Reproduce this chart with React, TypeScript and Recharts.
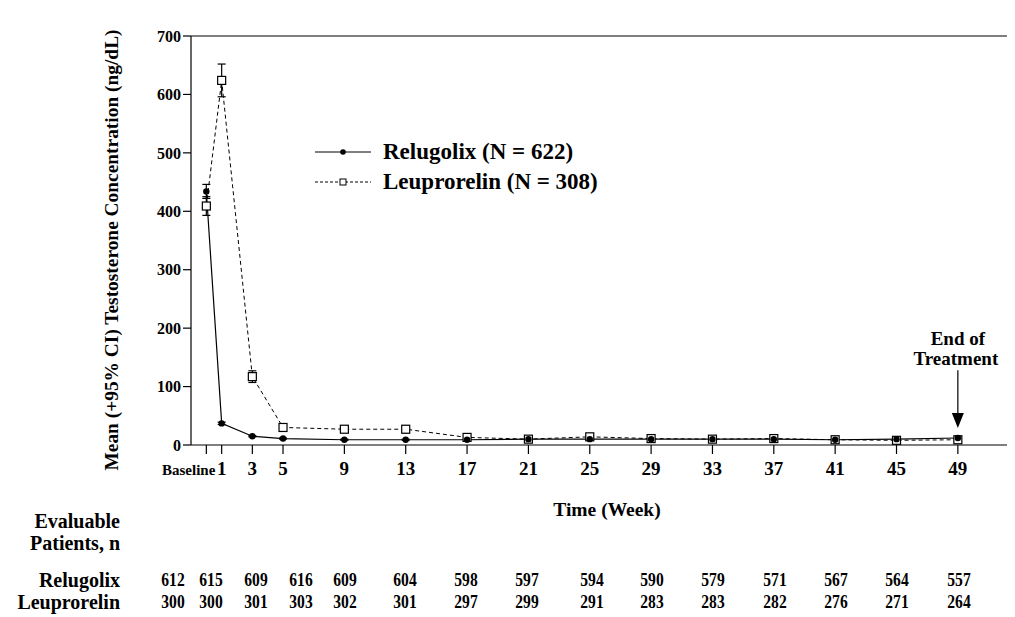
import React from 'react'
import { LineChart, Line, XAxis, YAxis, ErrorBar, ReferenceLine } from 'recharts'

const weeks = [0, 1, 3, 5, 9, 13, 17, 21, 25, 29, 33, 37, 41, 45, 49]
const yTicks = [0, 100, 200, 300, 400, 500, 600, 700]

// mean testosterone (ng/dL) and half-width of the 95% CI
const relugolixMean = [434, 37, 15, 11, 9, 9, 9, 10, 10, 10, 10, 10, 9, 10, 12]
const relugolixCi = [12, 2, 1, 1, 1, 1, 1, 1, 1, 1, 1, 1, 1, 1, 1]
const leuprorelinMean = [409, 624, 117, 30, 27, 27, 13, 10, 14, 11, 10, 11, 9, 8, 9]
const leuprorelinCi = [16, 28, 10, 5, 5, 6, 2, 1, 2, 1, 1, 1, 1, 1, 1]

// evaluable patients per visit
const relugolixN = [612, 615, 609, 616, 609, 604, 598, 597, 594, 590, 579, 571, 567, 564, 557]
const leuprorelinN = [300, 300, 301, 303, 302, 301, 297, 299, 291, 283, 283, 282, 276, 271, 264]

const data = weeks.map((week, i) => ({
  week,
  rel: relugolixMean[i],
  relCi: relugolixCi[i],
  leu: leuprorelinMean[i],
  leuCi: leuprorelinCi[i],
}))

const FONT = '"Liberation Serif", "Times New Roman", serif'
const tableCols = [173, 211, 256, 301, 345, 405, 466, 527, 592, 652, 713, 775, 836, 897, 959]

const WeekTick = ({ x, y, payload }: any) => {
  const base = payload.value === 0
  return (
    <text
      x={base ? x + 9 : x}
      y={y + 19}
      textAnchor={base ? 'end' : 'middle'}
      fontFamily={FONT}
      fontWeight="bold"
      fontSize={base ? 15 : 19}
      fill="#000"
    >
      {base ? 'Baseline' : payload.value}
    </text>
  )
}

const squareDot = (props: any) => {
  const { cx, cy, index } = props
  return <rect key={'s' + index} x={cx - 4} y={cy - 4} width={8} height={8} fill="#fff" stroke="#000" strokeWidth={1.2} />
}

const circleDot = (props: any) => {
  const { cx, cy, index } = props
  return <circle key={'c' + index} cx={cx} cy={cy} r={3.2} fill="#000" />
}

const EndArrow = (props: any) => {
  const { x1, y1, x2, y2 } = props
  return (
    <g>
      <line x1={x1} y1={y1} x2={x2} y2={y2 - 12} stroke="#000" strokeWidth={1.2} />
      <polygon points={`${x2 - 6},${y2 - 15} ${x2 + 6},${y2 - 15} ${x2},${y2}`} fill="#000" />
      <text x={x1} y={y1 - 25} textAnchor="middle" fontFamily={FONT} fontWeight="bold" fontSize={19} fill="#000">
        End of
      </text>
      <text x={x1 - 2} y={y1 - 5} textAnchor="middle" fontFamily={FONT} fontWeight="bold" fontSize={19} fill="#000">
        Treatment
      </text>
    </g>
  )
}

const txt: React.CSSProperties = {
  position: 'absolute',
  fontFamily: FONT,
  fontWeight: 'bold',
  color: '#000',
  whiteSpace: 'nowrap',
  lineHeight: '20px',
}

export default function App() {
  return (
    <div style={{ position: 'relative', width: 1015, height: 617, margin: '-8px 0 0 -8px', background: '#fff' }}>
      <LineChart width={1015} height={617} data={data} margin={{ top: 36, right: 5, bottom: 142, left: 131 }}>
        <XAxis
          dataKey="week"
          type="number"
          domain={[-1, 52.4]}
          ticks={weeks}
          interval={0}
          tick={<WeekTick />}
          tickSize={9}
          height={30}
          stroke="#000"
          axisLine={{ stroke: '#000', strokeWidth: 1.2 }}
          tickLine={{ stroke: '#000', strokeWidth: 1.2 }}
        />
        <YAxis
          type="number"
          domain={[0, 700]}
          ticks={yTicks}
          width={60}
          tickSize={8}
          tick={{ fill: '#000', fontFamily: FONT, fontWeight: 'bold', fontSize: 16 }}
          axisLine={{ stroke: '#000', strokeWidth: 1.2 }}
          tickLine={{ stroke: '#000', strokeWidth: 1.2 }}
        />
        <ReferenceLine y={700} stroke="#000" strokeWidth={1.2} />
        <ReferenceLine segment={[{ x: 49, y: 128 }, { x: 49, y: 29 }]} shape={<EndArrow />} />
        <Line
          dataKey="leu"
          stroke="#000"
          strokeWidth={1}
          strokeDasharray="4 3"
          dot={squareDot}
          isAnimationActive={false}
        >
          <ErrorBar dataKey="leuCi" width={4} stroke="#000" strokeWidth={1.2} direction="y" />
        </Line>
        <Line dataKey="rel" stroke="#000" strokeWidth={1.2} dot={circleDot} isAnimationActive={false}>
          <ErrorBar dataKey="relCi" width={4} stroke="#000" strokeWidth={1.2} direction="y" />
        </Line>
      </LineChart>

      {/* y axis title */}
      <div
        style={{
          ...txt,
          left: 112,
          top: 250,
          fontSize: 19.4,
          transform: 'translate(-50%, -50%) rotate(-90deg)',
        }}
      >
        Mean (+95% CI) Testosterone Concentration (ng/dL)
      </div>

      {/* legend */}
      {[
        { label: 'Relugolix (N = 622)', y: 152, dash: undefined, square: false },
        { label: 'Leuprorelin (N = 308)', y: 182, dash: '3 2', square: true },
      ].map((l) => (
        <div key={l.label}>
          <svg style={{ position: 'absolute', left: 313, top: l.y - 6 }} width={60} height={12}>
            <line x1={2} y1={6} x2={58} y2={6} stroke="#000" strokeWidth={1} strokeDasharray={l.dash} />
            {l.square ? (
              <rect x={27} y={3} width={6} height={6} fill="#fff" stroke="#000" />
            ) : (
              <circle cx={30} cy={6} r={2.8} fill="#000" />
            )}
          </svg>
          <div style={{ ...txt, left: 383, top: l.y - 13, fontSize: 23, lineHeight: '26px' }}>{l.label}</div>
        </div>
      ))}

      {/* x axis title */}
      <div style={{ ...txt, left: 607, top: 500, fontSize: 19.5, transform: 'translateX(-50%)' }}>Time (Week)</div>

      {/* evaluable patients table */}
      {[
        { t: 'Evaluable', y: 521 },
        { t: 'Patients, n', y: 543 },
        { t: 'Relugolix', y: 580 },
        { t: 'Leuprorelin', y: 602 },
      ].map((r) => (
        <div key={r.t} style={{ ...txt, right: 1015 - 120, top: r.y - 10, fontSize: 20, textAlign: 'right' }}>
          {r.t}
        </div>
      ))}
      {[relugolixN, leuprorelinN].map((row, ri) =>
        row.map((n, i) => (
          <div
            key={ri + '-' + i}
            style={{
              ...txt,
              left: tableCols[i],
              top: (ri === 0 ? 580 : 602) - 10,
              fontSize: 19,
              transform: 'translateX(-50%) scaleX(0.82)',
            }}
          >
            {n}
          </div>
        ))
      )}
    </div>
  )
}
